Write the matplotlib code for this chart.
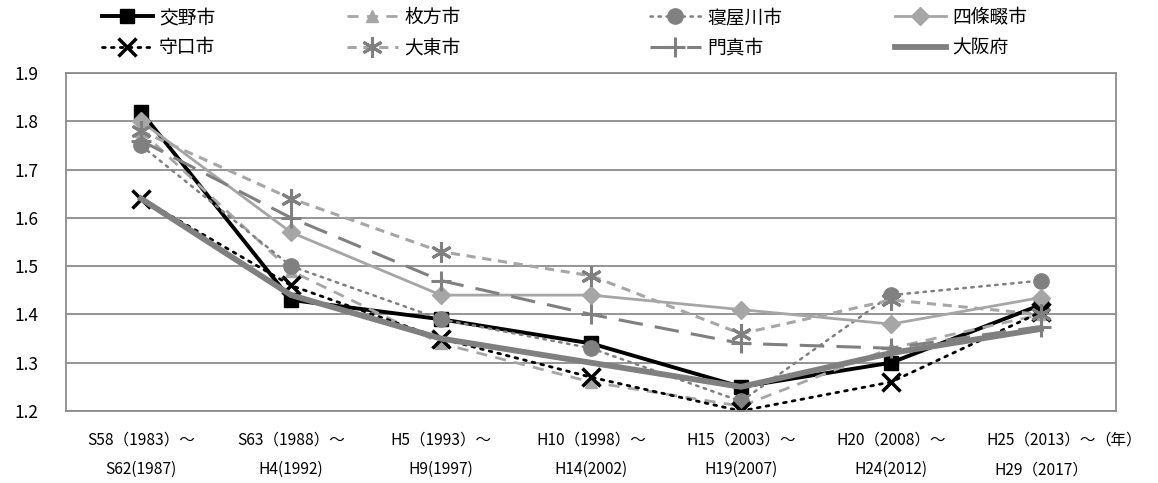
import matplotlib
matplotlib.use("Agg")
import matplotlib.pyplot as plt

plt.rcParams['font.family'] = ['Noto Sans CJK JP', 'DejaVu Sans']

periods = ["S58（1983）～\nS62(1987)", "S63（1988）～\nH4(1992)", "H5（1993）～\nH9(1997)",
           "H10（1998）～\nH14(2002)", "H15（2003）～\nH19(2007)", "H20（2008）～\nH24(2012)",
           "H25（2013）～\nH29（2017）"]
unit = "（年）"

katano = [1.82, 1.43, 1.39, 1.34, 1.25, 1.30, 1.42]
hirakata = [1.78, 1.49, 1.34, 1.26, 1.21, 1.33, 1.40]
neyagawa = [1.75, 1.50, 1.39, 1.33, 1.22, 1.44, 1.47]
shijonawate = [1.80, 1.57, 1.44, 1.44, 1.41, 1.38, 1.435]
moriguchi = [1.64, 1.46, 1.35, 1.27, 1.20, 1.26, 1.405]
daito = [1.78, 1.64, 1.53, 1.48, 1.36, 1.43, 1.40]
kadoma = [1.76, 1.60, 1.47, 1.40, 1.34, 1.33, 1.375]
osaka = [1.64, 1.44, 1.35, 1.30, 1.25, 1.32, 1.37]

fig = plt.figure(figsize=(11.58, 4.83), dpi=100)
ax = fig.add_axes([66/1158, 72/483, 1050/1158, 338/483])

x = range(len(periods))
h = {}
h['交野市'], = ax.plot(x, katano, color='black', lw=2.8, marker='s', ms=10, label='交野市')
h['枚方市'], = ax.plot(x, hirakata, color='#A6A6A6', lw=2.0, ls=(0, (4, 3)), marker='^',
                     ms=9, label='枚方市')
h['寝屋川市'], = ax.plot(x, neyagawa, color='#808080', lw=1.8, ls=(0, (1, 2.2)), marker='o',
                      ms=11, dash_capstyle='round', label='寝屋川市')
h['四條畷市'], = ax.plot(x, shijonawate, color='#A6A6A6', lw=2.0, marker='D', ms=9,
                      label='四條畷市')
h['守口市'], = ax.plot(x, moriguchi, color='black', lw=2.0, ls=(0, (1, 2.2)), marker='x',
                     ms=13, mew=2.5, dash_capstyle='round', label='守口市')
h['大東市'], = ax.plot(x, daito, color='#A6A6A6', lw=2.2, ls=(0, (3, 2.2)), marker=(6, 2, 0),
                     ms=15, mew=2.2, mec='#808080', label='大東市')
h['門真市'], = ax.plot(x, kadoma, color='#808080', lw=2.2, ls=(0, (8, 4)), marker='+',
                     ms=15, mew=2.2, label='門真市')
h['大阪府'], = ax.plot(x, osaka, color='#808080', lw=4.2, label='大阪府')

ax.set_xlim(-0.5, len(periods) - 0.5)
ax.set_ylim(1.2, 1.9)
ax.set_yticks([1.2, 1.3, 1.4, 1.5, 1.6, 1.7, 1.8, 1.9])
ax.set_yticklabels(['1.2', '1.3', '1.4', '1.5', '1.6', '1.7', '1.8', '1.9'], fontsize=12.5)
ax.yaxis.grid(True, color='#8C8C8C', lw=1.3)
ax.set_axisbelow(True)
for s in ax.spines.values():
    s.set_color('#8C8C8C')
    s.set_linewidth(1.3)
ax.tick_params(axis='y', length=0, pad=20)
ax.tick_params(axis='x', length=0, pad=15)

ax.set_xticks(list(x))
ax.set_xticklabels(periods, fontsize=11.2, linespacing=1.95)

# unit text right after the last category label's first line
last = ax.get_xticklabels()[-1]
ax.annotate(unit, xy=(1, 1), xycoords=last, ha='left', va='top', fontsize=11.2)

cols = [('交野市', '守口市', 102), ('枚方市', '大東市', 347),
        ('寝屋川市', '門真市', 650), ('四條畷市', '大阪府', 895)]
for a, b, px in cols:
    leg = fig.legend([h[a], h[b]], [a, b], loc='upper left',
                     bbox_to_anchor=(px/1158, 1 - 7/483), bbox_transform=fig.transFigure,
                     frameon=False, fontsize=13.5, handlelength=2.7, handletextpad=0.35,
                     borderpad=0, borderaxespad=0, labelspacing=0.5)

fig.savefig('out.png', dpi=100)
